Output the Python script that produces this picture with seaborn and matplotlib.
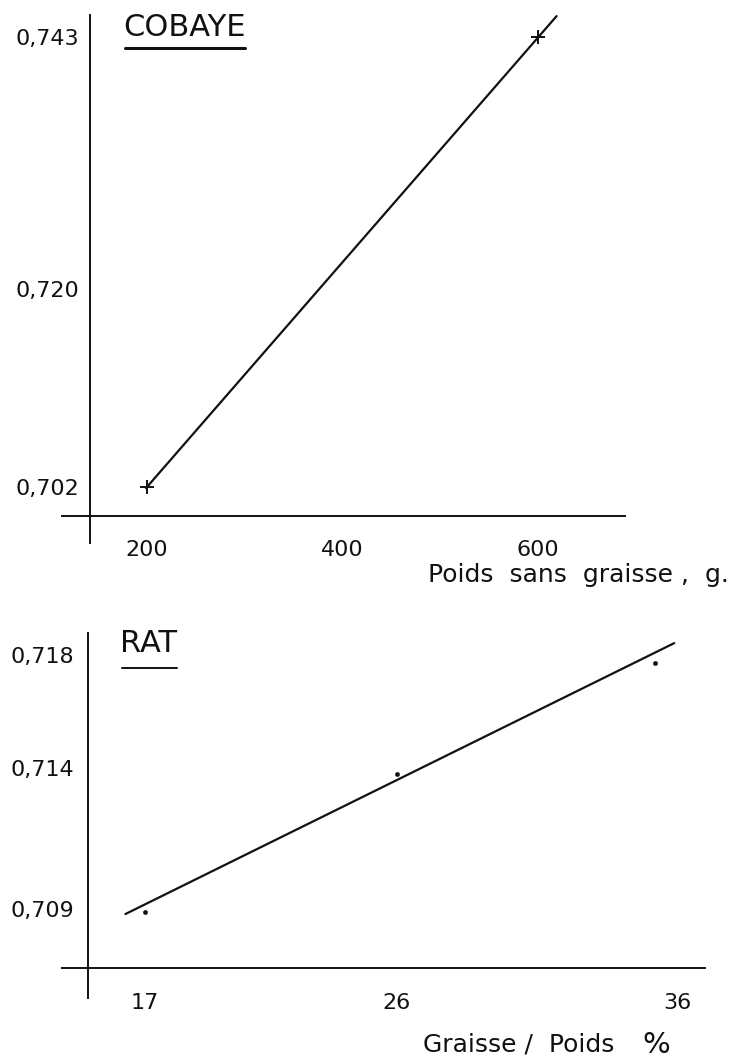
import matplotlib
matplotlib.use("Agg")
import matplotlib.pyplot as plt
import seaborn as sns
from matplotlib.lines import Line2D

sns.set_theme(style="white")
plt.rcParams['font.family'] = ['DejaVu Sans']

# ---------------- data ----------------
cobaye_x = [200, 600]
cobaye_y = [0.702, 0.743]
cobaye_fit_x = [199, 619]
cobaye_fit_y = [0.7019, 0.7449]
cobaye_xticks = [200, 400, 600]
cobaye_xticklabels = ["200", "400", "600"]
cobaye_yticks = [0.702, 0.720, 0.743]
cobaye_yticklabels = ["0,702", "0,720", "0,743"]

rat_x = [17, 26, 35.2]
rat_y = [0.7089, 0.7138, 0.7177]
rat_fit_x = [16.3, 35.9]
rat_fit_y = [0.70883, 0.71842]
rat_xticks = [17, 26, 36]
rat_xticklabels = ["17", "26", "36"]
rat_yticks = [0.709, 0.714, 0.718]
rat_yticklabels = ["0,709", "0,714", "0,718"]

cobaye_xlabel = "Poids  sans  graisse ,  g."
rat_xlabel = "Graisse /  Poids"
rat_xlabel_unit = "%"

INK = "#111111"
W, H = 747, 1059
fig = plt.figure(figsize=(W / 100, H / 100), dpi=100)
fig.patch.set_facecolor("white")


def make_axes(rect_px, x_anchor, y_anchor):
    l, t, r, b = rect_px
    ax = fig.add_axes([l / W, 1 - b / H, (r - l) / W, (b - t) / H])
    (xv1, xp1), (xv2, xp2) = x_anchor
    sx = (xp2 - xp1) / (xv2 - xv1)
    (yv1, yp1), (yv2, yp2) = y_anchor
    sy = (yp2 - yp1) / (yv2 - yv1)
    ax.set_xlim(xv1 + (l - xp1) / sx, xv1 + (r - xp1) / sx)
    ax.set_ylim(yv1 + (b - yp1) / sy, yv1 + (t - yp1) / sy)
    px2x = lambda p: xv1 + (p - xp1) / sx
    px2y = lambda p: yv1 + (p - yp1) / sy
    ax.patch.set_alpha(0)
    return ax, px2x, px2y


def style_axes(ax, px2x, px2y, vline_x, vline_y, hline_y, hline_x,
               xticks, xtl, yticks, ytl, ypad, xpad):
    for s in ["top", "right"]:
        ax.spines[s].set_visible(False)
    ax.spines["left"].set_position(("data", px2x(vline_x)))
    ax.spines["left"].set_bounds(px2y(vline_y[1]), px2y(vline_y[0]))
    ax.spines["bottom"].set_position(("data", px2y(hline_y)))
    ax.spines["bottom"].set_bounds(px2x(hline_x[0]), px2x(hline_x[1]))
    for s in ["left", "bottom"]:
        ax.spines[s].set_color(INK)
        ax.spines[s].set_linewidth(1.4)
    ax.set_xticks(xticks)
    ax.set_xticklabels(xtl)
    ax.set_yticks(yticks)
    ax.set_yticklabels(ytl)
    ax.tick_params(axis="y", length=0, pad=ypad, labelsize=16, labelcolor=INK)
    ax.tick_params(axis="x", length=0, pad=xpad, labelsize=16, labelcolor=INK)
    ax.set_xlabel("")
    ax.set_ylabel("")
    ax.grid(False)


# ---------------- COBAYE ----------------
ax1, p2x1, p2y1 = make_axes((50, 2, 720, 565), ((200, 147), (600, 538)),
                            ((0.702, 487), (0.743, 37)))
sns.lineplot(x=cobaye_fit_x, y=cobaye_fit_y, ax=ax1, color=INK, linewidth=1.6)
sns.scatterplot(x=cobaye_x, y=cobaye_y, ax=ax1, marker="+", s=110,
                color=INK, linewidth=1.4, zorder=5)
style_axes(ax1, p2x1, p2y1, 90, (15, 543), 516, (62, 625),
           cobaye_xticks, cobaye_xticklabels, cobaye_yticks, cobaye_yticklabels,
           ypad=8, xpad=17)

# ---------------- RAT ----------------
ax2, p2x2, p2y2 = make_axes((50, 620, 720, 1010), ((17, 145), (26, 397)),
                            ((0.718, 655), (0.714, 768)))
sns.lineplot(x=rat_fit_x, y=rat_fit_y, ax=ax2, color=INK, linewidth=1.6)
sns.scatterplot(x=rat_x, y=rat_y, ax=ax2, marker="o", s=10, color=INK,
                edgecolor=INK, zorder=5)
style_axes(ax2, p2x2, p2y2, 88, (633, 998), 968, (62, 705),
           rat_xticks, rat_xticklabels, rat_yticks, rat_yticklabels,
           ypad=10, xpad=18)

# ---------------- titles and labels ----------------
t1 = fig.text(123 / W, 1 - 28 / H, "COBAYE", fontsize=22, color=INK,
              ha="left", va="center")
t2 = fig.text(120 / W, 1 - 643 / H, "RAT", fontsize=22, color=INK,
              ha="left", va="center")

fig.text(428 / W, 1 - 575 / H, cobaye_xlabel, fontsize=18, color=INK,
         ha="left", va="center")
fig.text(423 / W, 1 - 1045 / H, rat_xlabel, fontsize=18, color=INK,
         ha="left", va="center")
fig.text(642 / W, 1 - 1045 / H, rat_xlabel_unit, fontsize=21, color=INK,
         ha="left", va="center")

fig.canvas.draw()
r = fig.canvas.get_renderer()
for t, ypx, lw in [(t1, 48, 2.2), (t2, 668, 1.4)]:
    bb = t.get_window_extent(renderer=r)
    y = 1 - ypx / H
    fig.add_artist(Line2D([bb.x0 / W + 0.003, bb.x1 / W], [y, y],
                          transform=fig.transFigure, color=INK, linewidth=lw))

fig.savefig("out.png", dpi=100, facecolor="white")
